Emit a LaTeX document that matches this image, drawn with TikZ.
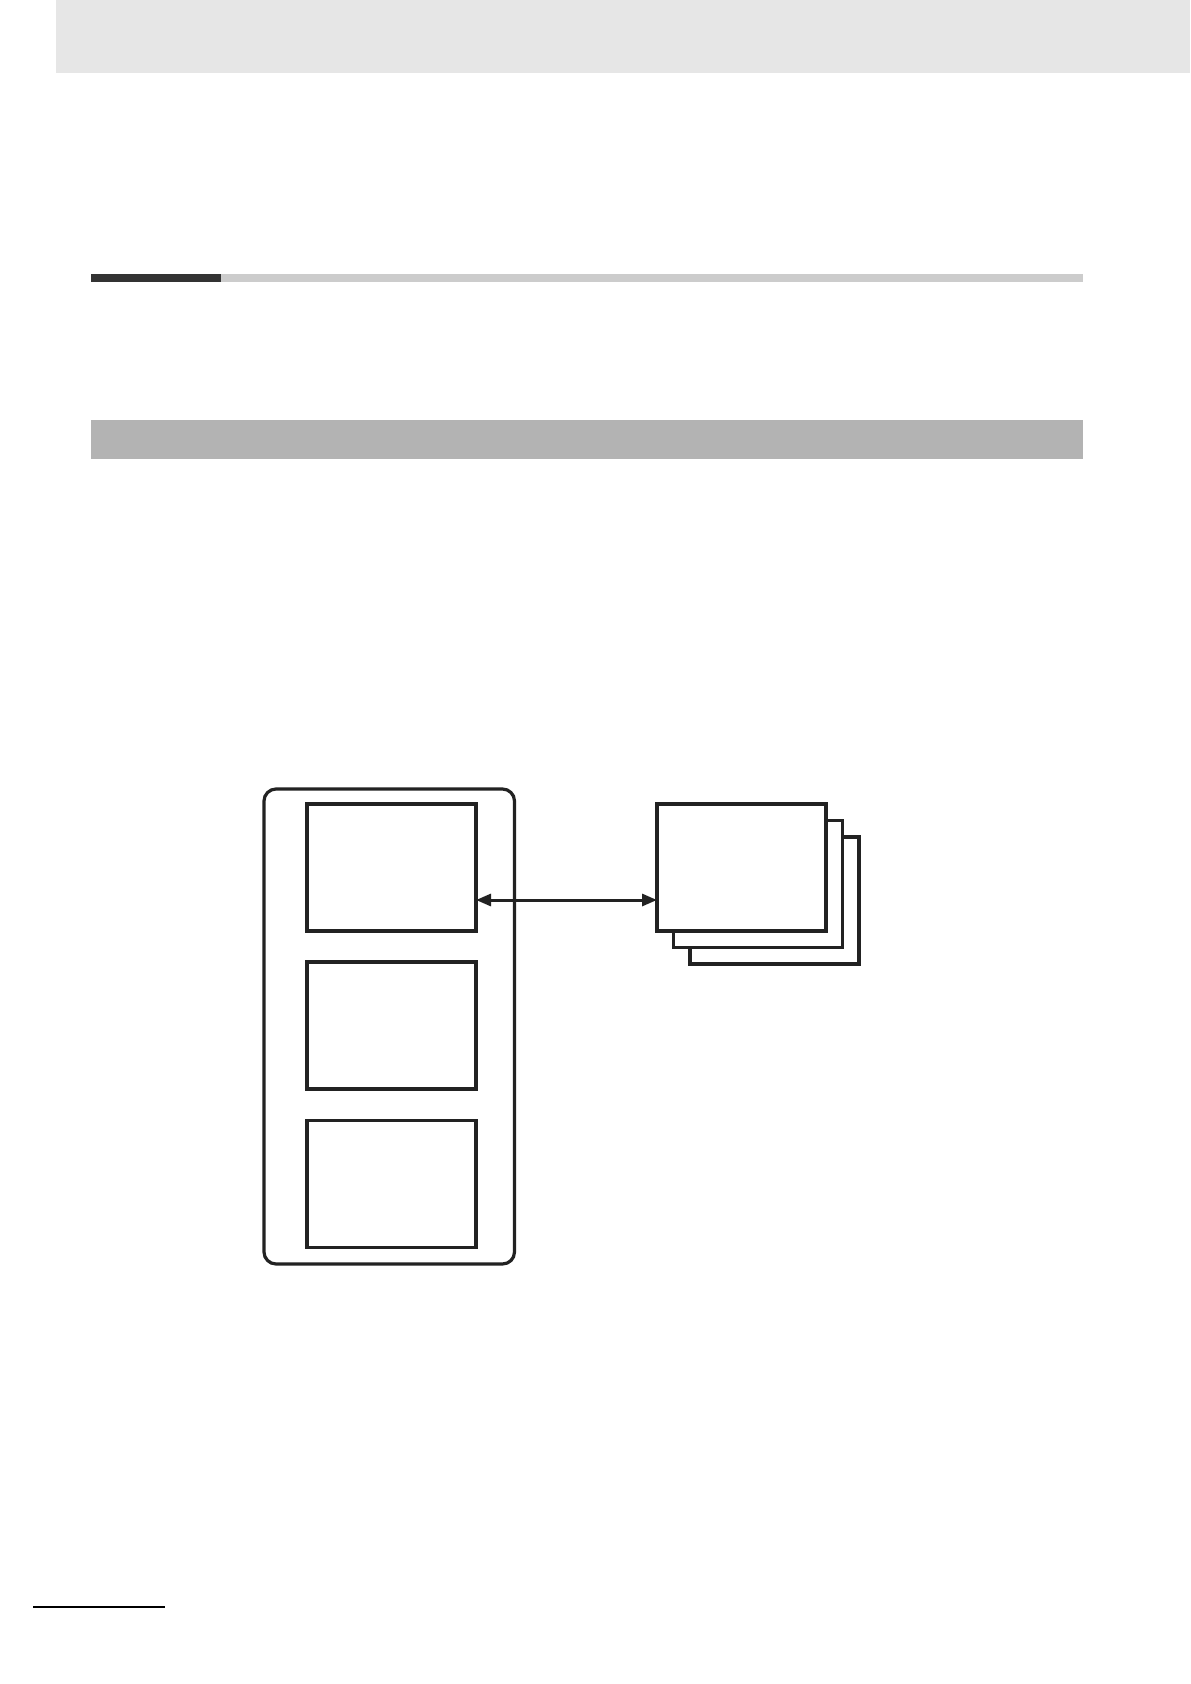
\documentclass[tikz,border=0pt]{standalone}
\usetikzlibrary{arrows.meta}
\definecolor{topband}{HTML}{E6E6E6}
\definecolor{barlight}{HTML}{CCCCCC}
\definecolor{bardark}{HTML}{333333}
\definecolor{headband}{HTML}{B3B3B3}
\definecolor{ink}{HTML}{222222}
\tikzset{
  panel/.style={draw=ink, line width=1.6pt, fill=white, inner sep=0pt, outer sep=0pt,
    minimum width=84.5pt, minimum height=63.5pt},
  frame/.style={draw=ink, line width=1.6pt, rounded corners=6pt, inner sep=0pt, outer sep=0pt,
    minimum width=125.25pt, minimum height=237.5pt},
  link/.style={draw=ink, line width=1.5pt, {Triangle[length=7.5pt,width=6pt]}-{Triangle[length=7.5pt,width=6pt]}}
}
\begin{document}
\begin{tikzpicture}[x=0.5pt,y=-0.5pt]
\useasboundingbox (0,0) rectangle (1190,1684);
\fill[white] (0,0) rectangle (1190,1684);
% page decorations
\fill[topband] (56,0) rectangle (1190,73.5);
\fill[barlight] (221,274) rectangle (1083,282);
\fill[bardark] (91,274) rectangle (221,282);
\fill[headband] (91,420) rectangle (1083,459);
\fill[black] (33,1606) rectangle (165,1608);
% diagram
\node[frame] (outer) at (389.25,1026.5) {};
\node[panel] (b1) at (391.5,867.5) {};
\node[panel] (b2) at (391.5,1025.5) {};
\node[panel] (b3) at (391.5,1184) {};
\node[panel] (r3) at (774.5,900.5) {};
\node[panel] (r2) at (758,884) {};
\node[panel] (r1) at (741.5,867.5) {};
\draw[link] ([yshift=-16.25pt]b1.east) -- ([yshift=-16.25pt]r1.west);
\end{tikzpicture}
\end{document}
